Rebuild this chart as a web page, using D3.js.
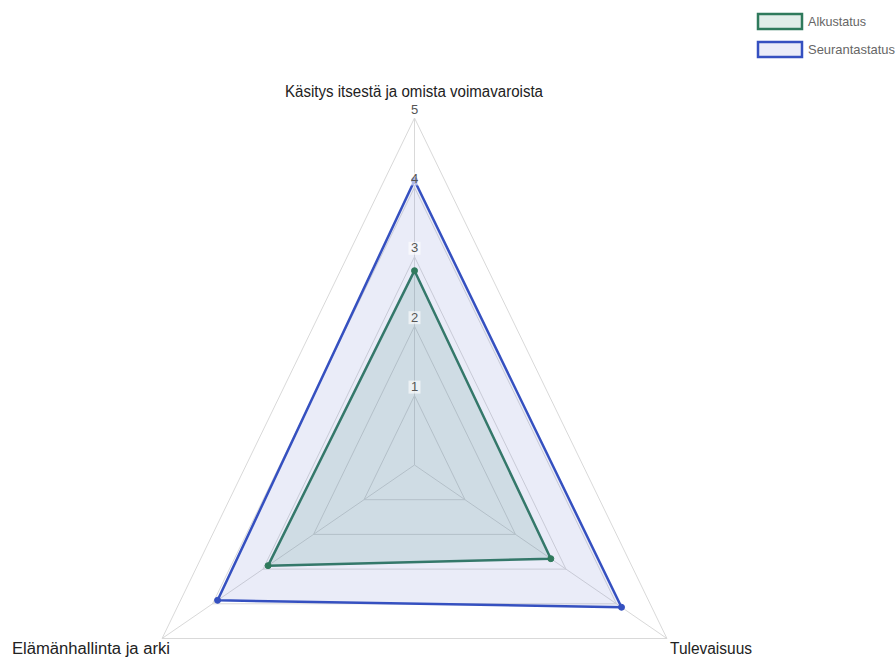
<!DOCTYPE html>
<html>
<head>
<meta charset="utf-8">
<script src="https://cdn.jsdelivr.net/npm/d3@7"></script>
<style>
html,body{margin:0;padding:0;background:#fff;}
svg{display:block;}
</style>
</head>
<body>
<svg id="chart" width="896" height="657"></svg>
<script>
const axes = ["Käsitys itsestä ja omista voimavaroista", "Tulevaisuus", "Elämänhallinta ja arki"];
const seriesNames = ["Alkustatus", "Seurantastatus"];
const alkustatus = [2.8, 2.7, 2.9];
const seurantastatus = [4.1, 4.1, 3.9];
const tickValues = [1, 2, 3, 4, 5];
const tickLabels = ["1", "2", "3", "4", "5"];

const series = [
  {name: seriesNames[0], values: alkustatus, stroke: "#2f7a5c", fill: "rgba(70,140,120,0.16)"},
  {name: seriesNames[1], values: seurantastatus, stroke: "#3550c0", fill: "rgba(90,110,200,0.13)"}
];

const svg = d3.select("#chart");
const cx = 414.5, cy = 465;
const rx = 291.5, ry = 347;
const sx = d3.scaleLinear().domain([0, 5]).range([0, rx]);
const sy = d3.scaleLinear().domain([0, 5]).range([0, ry]);
const angle = d3.scalePoint().domain(axes).range([0, 240]);
function pt(axis, v) {
  const a = angle(axis) * Math.PI / 180;
  return [cx + sx(v) * Math.sin(a), cy - sy(v) * Math.cos(a)];
}

const font = "'Liberation Sans Narrow','Arial Narrow','Liberation Sans',Arial,sans-serif";

// grid rings
const gGrid = svg.append("g");
tickValues.forEach(t => {
  gGrid.append("polygon")
    .attr("points", axes.map(a => pt(a, t).join(",")).join(" "))
    .attr("fill", "none").attr("stroke", "#d9d9d9").attr("stroke-width", 1);
});
// angle lines
axes.forEach(a => {
  const p = pt(a, 5);
  gGrid.append("line").attr("x1", cx).attr("y1", cy).attr("x2", p[0]).attr("y2", p[1])
    .attr("stroke", "#d9d9d9").attr("stroke-width", 1);
});

// datasets
const line = d3.line().curve(d3.curveLinearClosed);
series.forEach(s => {
  const pts = axes.map((a, i) => pt(a, s.values[i]));
  svg.append("path").attr("d", line(pts))
    .attr("fill", s.fill).attr("stroke", s.stroke).attr("stroke-width", 2.5)
    .attr("stroke-linejoin", "round");
});
series.forEach(s => {
  const pts = axes.map((a, i) => pt(a, s.values[i]));
  svg.append("g").selectAll("circle").data(pts).join("circle")
    .attr("cx", d => d[0]).attr("cy", d => d[1]).attr("r", 3)
    .attr("fill", s.stroke).attr("stroke", s.stroke).attr("stroke-width", 1);
});

// tick labels with backdrop
const gTicks = svg.append("g");
tickValues.forEach((t, i) => {
  const p = pt(axes[0], t);
  const y = p[1] - 9;
  gTicks.append("rect").attr("x", cx - 6).attr("y", y - 6).attr("width", 12).attr("height", 13)
    .attr("fill", "rgba(255,255,255,0.6)");
  gTicks.append("text").attr("x", cx).attr("y", y)
    .attr("text-anchor", "middle").attr("dominant-baseline", "central")
    .attr("font-family", font).attr("font-size", 13).attr("fill", "#555")
    .text(tickLabels[i]);
});

// axis labels
const labelSpec = [
  {x: 414, y: 97, anchor: "middle", len: 258},
  {x: 670, y: 654, anchor: "start", len: 82},
  {x: 12, y: 654, anchor: "start", len: 158}
];
axes.forEach((a, i) => {
  const l = labelSpec[i];
  svg.append("text").attr("x", l.anchor === "middle" ? l.x - l.len / 2 : l.x).attr("y", l.y)
    .attr("font-family", font).attr("font-size", 16).attr("fill", "#222")
    .attr("textLength", l.len).attr("lengthAdjust", "spacingAndGlyphs")
    .text(a);
});

// legend
const legendLens = [58, 87];
series.forEach((s, i) => {
  const y = 14 + i * 28;
  svg.append("rect").attr("x", 758).attr("y", y).attr("width", 44).attr("height", 15)
    .attr("fill", s.fill).attr("stroke", s.stroke).attr("stroke-width", 2.5);
  svg.append("text").attr("x", 808).attr("y", y + 12)
    .attr("font-family", font).attr("font-size", 13).attr("fill", "#666")
    .attr("textLength", legendLens[i]).attr("lengthAdjust", "spacingAndGlyphs")
    .text(s.name);
});
</script>
</body>
</html>
